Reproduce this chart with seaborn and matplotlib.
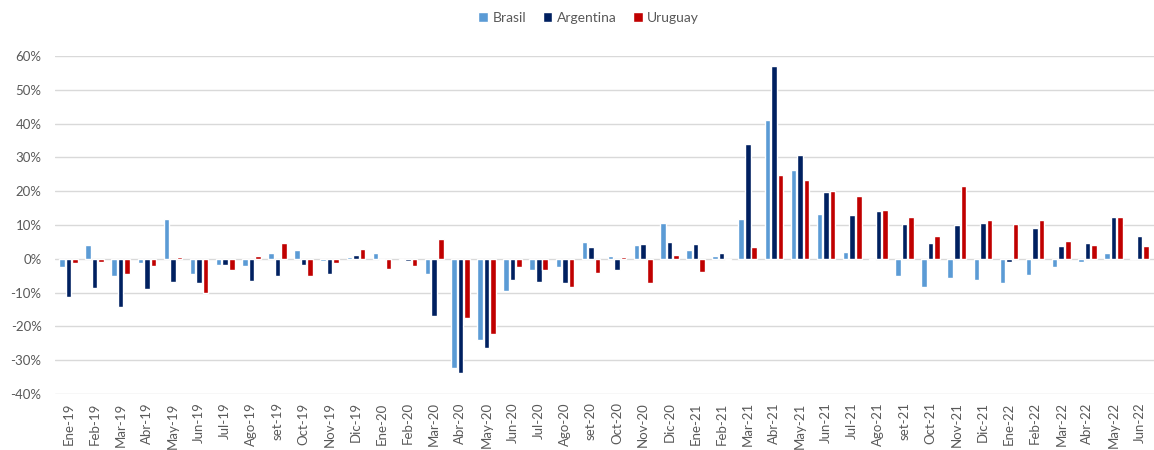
#! /usr/bin/env python3
import seaborn as sns
import pandas as pd
import matplotlib.pyplot as plt
from matplotlib.ticker import FuncFormatter, MultipleLocator

# month labels, Ene-19 .. Jun-22
MESES = ['Ene-19', 'Feb-19', 'Mar-19', 'Abr-19', 'May-19', 'Jun-19', 'Jul-19', 'Ago-19', 'set-19',
         'Oct-19', 'Nov-19', 'Dic-19', 'Ene-20', 'Feb-20', 'Mar-20', 'Abr-20', 'May-20', 'Jun-20',
         'Jul-20', 'Ago-20', 'set-20', 'Oct-20', 'Nov-20', 'Dic-20', 'Ene-21', 'Feb-21', 'Mar-21',
         'Abr-21', 'May-21', 'Jun-21', 'Jul-21', 'Ago-21', 'set-21', 'Oct-21', 'Nov-21', 'Dic-21',
         'Ene-22', 'Feb-22', 'Mar-22', 'Abr-22', 'May-22', 'Jun-22']

# monthly variation, percent
BRASIL = [-2.5, 4.0, -5.2, -1.1, 11.8, -4.4, -1.8, -2.1, 1.6,
          2.7, -0.7, 0.4, 1.6, -0.4, -4.5, -32.3, -24.0, -9.6,
          -3.2, -2.5, 5.1, 0.9, 4.0, 10.6, 2.7, 0.9, 11.8,
          41.0, 26.3, 13.4, 2.0, -0.4, -5.2, -8.3, -5.6, -6.3,
          -7.2, -4.8, -2.5, -0.8, 1.7, 0.3]
ARGENTINA = [-11.3, -8.6, -14.4, -8.9, -6.9, -7.2, -1.8, -6.5, -5.2,
             -1.8, -4.5, 1.2, -0.3, -0.7, -16.8, -33.9, -26.4, -6.4,
             -7.0, -7.3, 3.6, -3.2, 4.4, 5.1, 4.4, 1.7, 33.9,
             57.1, 30.8, 19.8, 12.9, 14.0, 10.2, 4.7, 9.9, 10.6,
             -0.8, 9.2, 3.7, 4.7, 12.3, 6.8]
URUGUAY = [-1.1, -0.8, -4.4, -2.1, 0.5, -10.1, -3.2, 0.9, 4.7,
           -5.2, -1.1, 2.9, -2.9, -2.1, 5.8, -17.5, -22.3, -2.5,
           -3.4, -8.3, -4.1, 0.4, -7.3, 1.0, -3.8, -0.4, 3.6,
           24.9, 23.3, 20.2, 18.7, 14.3, 12.3, 6.7, 21.6, 11.6,
           10.2, 11.6, 5.4, 4.0, 12.3, 3.7]

PAISES = ['Brasil', 'Argentina', 'Uruguay']
COLORES = {'Brasil': '#5B9BD5', 'Argentina': '#002060', 'Uruguay': '#C00000'}


def main():
    sns.set_theme(style='white')
    plt.rcParams['font.family'] = ['Lato', 'DejaVu Sans']

    # long format for seaborn
    frames = []
    for pais, vals in zip(PAISES, [BRASIL, ARGENTINA, URUGUAY]):
        frames.append(pd.DataFrame({'mes': MESES, 'pais': pais, 'valor': [v / 100.0 for v in vals]}))
    df = pd.concat(frames, ignore_index=True)

    f = plt.figure(figsize=(11.54, 4.5), dpi=100)
    ax = f.add_axes([0.048, 0.1244, 0.952, 0.7512])

    sns.barplot(data=df, x='mes', y='valor', hue='pais', hue_order=PAISES, order=MESES,
                palette=COLORES, saturation=1, width=0.75, gap=0.15, ax=ax, zorder=3)

    ax.set_ylim(-0.4, 0.6)
    ax.set_xlim(-0.5, len(MESES) - 0.45)
    ax.yaxis.set_major_locator(MultipleLocator(0.1))
    ax.yaxis.set_major_formatter(FuncFormatter(lambda v, _: f"{v * 100:.0f}%"))
    ax.grid(axis='y', color='#D9D9D9', linewidth=1, zorder=0)
    for s in ax.spines.values():
        s.set_visible(False)
    ax.set_xlabel('')
    ax.set_ylabel('')
    ax.tick_params(axis='x', rotation=90, labelsize=9.5, colors='#595959', length=0, pad=6)
    ax.tick_params(axis='y', labelsize=9.5, colors='#595959', length=0, pad=10)

    # legend on top
    handles, labels = ax.get_legend_handles_labels()
    ax.legend().remove()
    f.legend(handles, labels, loc='center', bbox_to_anchor=(0.51, 0.96), ncol=3, frameon=False,
             fontsize=10, handlelength=0.7, handleheight=0.7, handletextpad=0.3, columnspacing=1.2,
             labelcolor='#595959')

    f.savefig("out.png", dpi=100)


if __name__ == "__main__":
    main()
